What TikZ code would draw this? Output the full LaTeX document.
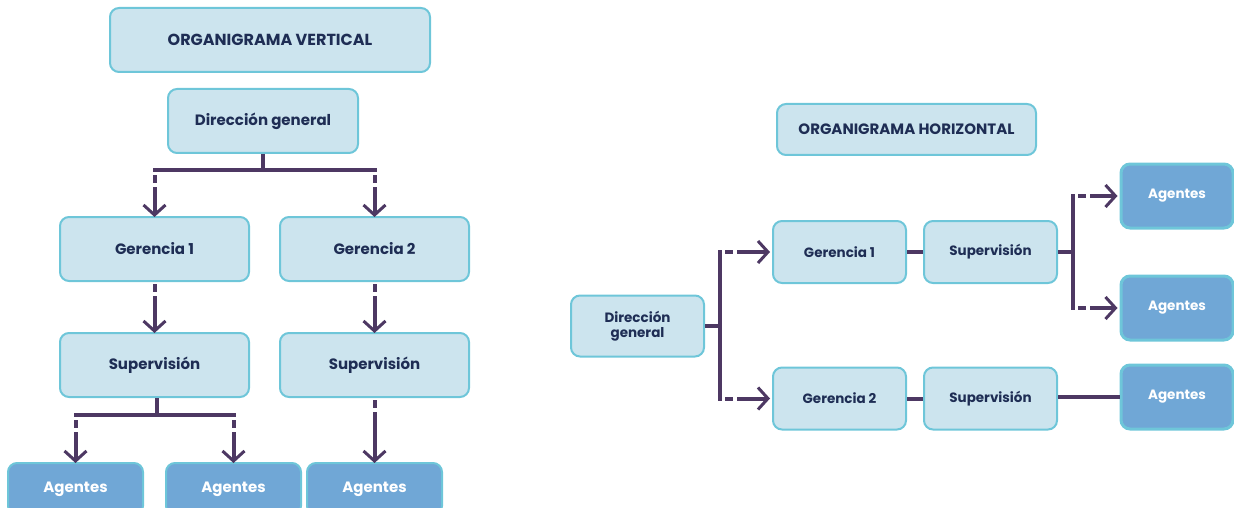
\documentclass[tikz,border=0pt]{standalone}
\usepackage{fontspec}
\setmainfont{Poppins}
\usetikzlibrary{arrows.meta}
\definecolor{boxfill}{HTML}{CCE4EE}
\definecolor{boxline}{HTML}{6EC6D9}
\definecolor{txtblue}{HTML}{1E2D54}
\definecolor{linkpurple}{HTML}{4D3863}
\definecolor{agefill}{HTML}{70A7D6}
\tikzset{
  orgbox/.style={draw=boxline,fill=boxfill,line width=2pt,rounded corners=9pt,
    text=txtblue,font=\bfseries\fontsize{15}{16}\selectfont,align=center,inner sep=2pt},
  agebox/.style={orgbox,fill=agefill,text=white},
  smalltext/.style={font=\bfseries\fontsize{13.5}{15}\selectfont},
  link/.style={draw=linkpurple,line width=4pt},
  dashlink/.style={link,dash pattern=on 0pt off 5pt on 8pt off 4pt on 300pt,
    -{Straight Barb[length=10pt,width=22pt,line width=3pt]}},
}
\begin{document}
\begin{tikzpicture}[x=1pt,y=-1pt]
\useasboundingbox (0,0) rectangle (1234,508);
% organigrama vertical
\node[orgbox,minimum width=320,minimum height=64,font=\bfseries\fontsize{16}{17}\selectfont] (vtitle) at (270,40) {ORGANIGRAMA VERTICAL};
\node[orgbox,minimum width=190,minimum height=64] (vdir) at (263,121) {Dirección general};
\node[orgbox,minimum width=189,minimum height=64] (vger1) at (154.5,249) {Gerencia 1};
\node[orgbox,minimum width=189,minimum height=64] (vger2) at (374.5,249) {Gerencia 2};
\node[orgbox,minimum width=189,minimum height=64] (vsup1) at (154.5,365) {Supervisión};
\node[orgbox,minimum width=189,minimum height=64] (vsup2) at (374.5,365) {Supervisión};
\node[agebox,minimum width=135,minimum height=52] (vage1) at (75.5,489) {Agentes};
\node[agebox,minimum width=135,minimum height=52] (vage2) at (233.5,489) {Agentes};
\node[agebox,minimum width=135,minimum height=52] (vage3) at (374.5,489) {Agentes};
\coordinate (vbar1) at (0,170);
\coordinate (vbar2) at (0,415);
\draw[link] (vdir.south) -- (vdir.south |- vbar1);
\draw[link,line cap=rect] (vger1.north |- vbar1) -- (vger2.north |- vbar1);
\draw[dashlink] (vger1.north |- vbar1) -- ([yshift=-1pt]vger1.north);
\draw[dashlink] (vger2.north |- vbar1) -- ([yshift=-1pt]vger2.north);
\draw[dashlink] ([yshift=3pt]vger1.south) -- ([yshift=-1pt]vsup1.north);
\draw[dashlink] ([yshift=3pt]vger2.south) -- ([yshift=-1pt]vsup2.north);
\draw[link] ([xshift=2.5pt]vsup1.south) -- ([xshift=2.5pt]vsup1.south |- vbar2);
\draw[link,line cap=rect] (vage1.north |- vbar2) -- (vage2.north |- vbar2);
\draw[dashlink] (vage1.north |- vbar2) -- ([yshift=-1pt]vage1.north);
\draw[dashlink] (vage2.north |- vbar2) -- ([yshift=-1pt]vage2.north);
\draw[dashlink] ([yshift=3pt]vsup2.south) -- ([yshift=-1pt]vage3.north);
% organigrama horizontal
\node[orgbox,minimum width=259,minimum height=51,font=\bfseries\fontsize{15}{16}\selectfont] (htitle) at (906.5,129.5) {ORGANIGRAMA HORIZONTAL};
\node[orgbox,smalltext,minimum width=133,minimum height=61] (hdir) at (637.5,326) {Dirección\\general};
\node[orgbox,smalltext,minimum width=133,minimum height=62] (hger1) at (839.5,252) {Gerencia 1};
\node[orgbox,smalltext,minimum width=133,minimum height=62] (hsup1) at (990.5,252) {Supervisión};
\node[orgbox,smalltext,minimum width=133,minimum height=62] (hger2) at (839.5,398.5) {Gerencia 2};
\node[orgbox,smalltext,minimum width=133,minimum height=62] (hsup2) at (990.5,398.5) {Supervisión};
\node[agebox,smalltext,line width=3pt,minimum width=112,minimum height=64] (hage1) at (1177,196) {Agentes};
\node[agebox,smalltext,line width=3pt,minimum width=112,minimum height=64] (hage2) at (1177,308) {Agentes};
\node[agebox,smalltext,line width=3pt,minimum width=112,minimum height=64] (hage3) at (1177,397) {Agentes};
\coordinate (hbar1) at (720,0);
\coordinate (hbar2) at (1073,0);
\draw[link] (hdir.east) -- (hdir.east -| hbar1);
\draw[link,line cap=rect] (hger1.west -| hbar1) -- (hger2.west -| hbar1);
\draw[dashlink] (hger1.west -| hbar1) -- ([xshift=-2pt]hger1.west);
\draw[dashlink] (hger2.west -| hbar1) -- ([xshift=-2pt]hger2.west);
\draw[link] (hger1) -- (hsup1);
\draw[link] (hger2) -- (hsup2);
\draw[link] (hsup1.east) -- (hsup1.east -| hbar2);
\draw[link,line cap=rect] (hage1.west -| hbar2) -- (hage2.west -| hbar2);
\draw[dashlink] (hage1.west -| hbar2) -- ([xshift=-2pt]hage1.west);
\draw[dashlink] (hage2.west -| hbar2) -- ([xshift=-2pt]hage2.west);
\draw[link] (hsup2.east |- hage3) -- (hage3.west);
\end{tikzpicture}
\end{document}
